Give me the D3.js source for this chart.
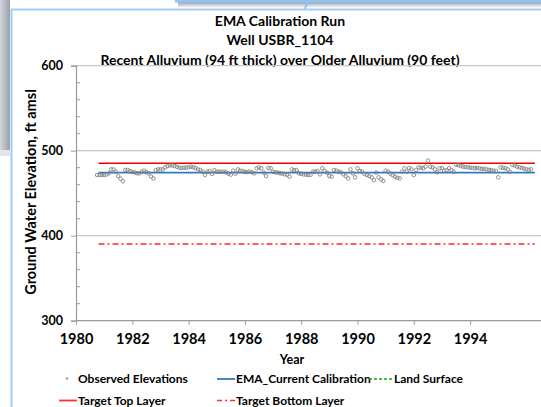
<!DOCTYPE html>
<html><head><meta charset="utf-8">
<script src="https://cdn.jsdelivr.net/npm/d3@7"></script>
<style>
html,body{margin:0;padding:0;background:#fff;overflow:hidden;}
text{font-family:Lato,"Open Sans",sans-serif;font-weight:bold;fill:#000;}
</style></head>
<body>
<svg id="c" width="541" height="407"></svg>
<script>
// ---- data ----
const titleLines = ["EMA Calibration Run", "Well USBR_1104", "Recent Alluvium (94 ft thick) over Older Alluvium (90 feet)"];
const xTicks = [1980, 1982, 1984, 1986, 1988, 1990, 1992, 1994];
const yTicks = [300, 400, 500, 600];
const obsStartYear = 1980.75; // monthly observations
const obsValues = [
 471.4,471.4,471.4,471.4,472,473.4,478,478,475.3,470,467,464,
 477.3,477.3,476,475,474.5,473.4,473.4,475.3,476.5,475,473.4,469.5,
 467.5,477,478,478,478,480.4,482,482.8,482.8,482,481,480,
 479.7,480,480,480.5,481.2,480.5,479.7,478,477.3,475.3,471.5,475.3,
 476.1,472.6,477,475.3,475.3,475.3,475.3,474.5,473,471.8,476.5,473,
 478,476.5,476,475,474.8,475.5,474.6,473.4,479.3,480.4,479.3,474.2,
 470.2,479.7,479.3,475.3,474.6,474.2,473.4,473,472.2,471.8,469.5,478,
 477,477.3,
 473.4,472.8,472.2,471.8,471.4,471.6,
 475.3,475.3,476,472.2,479.3,476,474,470.2,469.5,477.3,476.5,475.3,474.6,
 472.2,470.2,467.5,478,473.4,468.7,479.3,476,475.3,472.6,471.4,470.2,
 468.7,465.5,474.2,468.7,466.3,464.4,476.5,475.3,473,471,469.5,468,467.5,
 475.3,479.3,475.3,479.7,478.1,471.4,477.3,480.4,480,479.3,481.2,488.3,
 481.2,480.4,478.1,474.6,479.3,479.3,476.5,477,479.3,477,475.3,483.5,483,
 482,481.2,480.8,480.4,480,479.7,479.3,479.7,479.3,478.5,478.9,478.1,477.5,
 477,476.5,476.1,468.7,480.4,480,479.3,478.1,475.3,483.5,482.5,
 481.2,480.4,479.7,479,478.1,477.5,478.1
];
const lineYears = [1980.8, 1996.3];
const emaValue = 474.1;
const targetTop = 485.2;
const targetBottom = 390.3;
const legendRow1 = ["Observed  Elevations", "EMA_Current Calibration", "Land Surface"];
const legendRow2 = ["Target Top Layer", "Target Bottom Layer"];

// ---- drawing ----
const svg = d3.select("#c");
const x = d3.scaleLinear().domain([1980, 1997]).range([76, 76 + 17 * 28.15]);
const y = d3.scaleLinear().domain([300, 600]).range([320.7, 65.7]);

// decoration frame
const defs = svg.append("defs");
const g1 = defs.append("linearGradient").attr("id","lg").attr("x1","0").attr("x2","1");
g1.append("stop").attr("offset","0").attr("stop-color","#d3d6dc");
g1.append("stop").attr("offset","1").attr("stop-color","#9aa0a8");
svg.append("rect").attr("x",0).attr("y",0).attr("width",10).attr("height",150).attr("fill","url(#lg)");
svg.append("rect").attr("x",0).attr("y",150).attr("width",10).attr("height",6).attr("fill","#e4e5e8");
const g2 = defs.append("linearGradient").attr("id","lg2").attr("x1","0").attr("x2","0").attr("y1","0").attr("y2","1");
g2.append("stop").attr("offset","0").attr("stop-color","#9a9ea5");
g2.append("stop").attr("offset","1").attr("stop-color","#ffffff");
svg.append("rect").attr("x",178).attr("y",2).attr("width",363).attr("height",6).attr("fill","url(#lg2)");
svg.append("rect").attr("x",175).attr("y",0).attr("width",366).attr("height",2.5).attr("fill","#8fc4f5");
svg.append("line").attr("x1",308).attr("x2",305).attr("y1",0).attr("y2",9).attr("stroke","#8fc4f5").attr("stroke-width",2);
svg.append("line").attr("x1",11.5).attr("x2",11.5).attr("y1",9).attr("y2",407).attr("stroke","#9dcbf7").attr("stroke-width",2);
svg.append("line").attr("x1",11).attr("x2",541).attr("y1",9.5).attr("y2",9.5).attr("stroke","#9dcbf7").attr("stroke-width",2);

// titles
svg.selectAll("text.title").data(titleLines).enter().append("text")
  .attr("class","title").attr("x",280).attr("y",(d,i)=>25.5 + i*19.7)
  .attr("text-anchor","middle").style("font-size","14px").text(d=>d);

// gridlines
svg.append("g").selectAll("line").data(yTicks.filter(v=>v>300)).enter().append("line")
  .attr("x1",76).attr("x2",541).attr("y1",d=>y(d)).attr("y2",d=>y(d))
  .attr("stroke","#c8c8c8").attr("stroke-width",1.2);

// y axis
const yAxis = d3.axisLeft(y).tickValues(yTicks).tickSize(5).tickPadding(8).tickFormat(d3.format("d"));
const ya = svg.append("g").attr("transform","translate(76,0)").call(yAxis);
ya.select(".domain").attr("stroke","#9a9a9a").attr("stroke-width",1.2);
ya.selectAll(".tick line").attr("stroke","#9a9a9a");
ya.selectAll("text").style("font-size","12.5px").style("font-family","Lato").style("font-weight","bold").attr("fill","#000");
const minorY = d3.range(320, 600, 20).filter(v=>v%100!==0);
svg.append("g").selectAll("line").data(minorY).enter().append("line")
  .attr("x1",77).attr("x2",80).attr("y1",d=>y(d)).attr("y2",d=>y(d)).attr("stroke","#9a9a9a");

// x axis
const xAxis = d3.axisBottom(x).tickValues(xTicks).tickSize(4).tickPadding(9).tickFormat(d3.format("d"));
const xa = svg.append("g").attr("transform","translate(0,320.7)").call(xAxis);
xa.select(".domain").attr("stroke","#9a9a9a").attr("stroke-width",1.2).attr("d","M76,0H541");
xa.selectAll(".tick line").attr("stroke","#9a9a9a");
xa.selectAll("text").style("font-size","14.5px").style("font-family","Lato").style("font-weight","bold").attr("fill","#000");

// axis titles
svg.append("text").attr("x",292).attr("y",364).attr("text-anchor","middle").style("font-size","12.5px").text("Year");
svg.append("text").attr("transform","translate(36,192) rotate(-90)").attr("text-anchor","middle")
  .style("font-size","14.5px").text("Ground Water Elevation, ft amsl");

// lines
const line = d3.line().x(d=>x(d[0])).y(d=>y(d[1]));
svg.append("path").datum(lineYears.map(t=>[t,targetBottom])).attr("d",line)
  .attr("fill","none").attr("stroke","#ff2a2a").attr("stroke-width",1.5).attr("stroke-dasharray","6,3,2,3");
svg.append("path").datum(lineYears.map(t=>[t,emaValue])).attr("d",line)
  .attr("fill","none").attr("stroke","#2e7bc4").attr("stroke-width",1.8);
svg.append("path").datum(lineYears.map(t=>[t,targetTop])).attr("d",line)
  .attr("fill","none").attr("stroke","#ee0000").attr("stroke-width",1.5);

// observed points
svg.append("g").selectAll("circle").data(obsValues).enter().append("circle")
  .attr("cx",(d,i)=>x(obsStartYear + i/12)).attr("cy",d=>y(d)).attr("r",1.8)
  .attr("fill","none").attr("stroke","#7a7a7a").attr("stroke-width",0.8);

// legend
const lg = svg.append("g").style("font-size","12px");
lg.append("circle").attr("cx",67).attr("cy",378.5).attr("r",1.3).attr("fill","#a0a0a0");
lg.append("text").attr("x",78).attr("y",383).text(legendRow1[0]);
lg.append("line").attr("x1",217).attr("x2",235).attr("y1",379).attr("y2",379).attr("stroke","#2e7bc4").attr("stroke-width",1.8);
lg.append("text").attr("x",236).attr("y",383).text(legendRow1[1]);
lg.append("line").attr("x1",369).attr("x2",393).attr("y1",379).attr("y2",379).attr("stroke","#1aa01a").attr("stroke-width",1.3).attr("stroke-dasharray","3,2");
lg.append("text").attr("x",394).attr("y",383).text(legendRow1[2]);
lg.append("line").attr("x1",59).attr("x2",77).attr("y1",400.5).attr("y2",400.5).attr("stroke","#ff3030").attr("stroke-width",1.8);
lg.append("text").attr("x",78).attr("y",405).text(legendRow2[0]);
lg.append("line").attr("x1",217).attr("x2",235).attr("y1",400.5).attr("y2",400.5).attr("stroke","#ff3030").attr("stroke-width",1.5).attr("stroke-dasharray","5,3,2,3");
lg.append("text").attr("x",236).attr("y",405).text(legendRow2[1]);
</script>
</body></html>
